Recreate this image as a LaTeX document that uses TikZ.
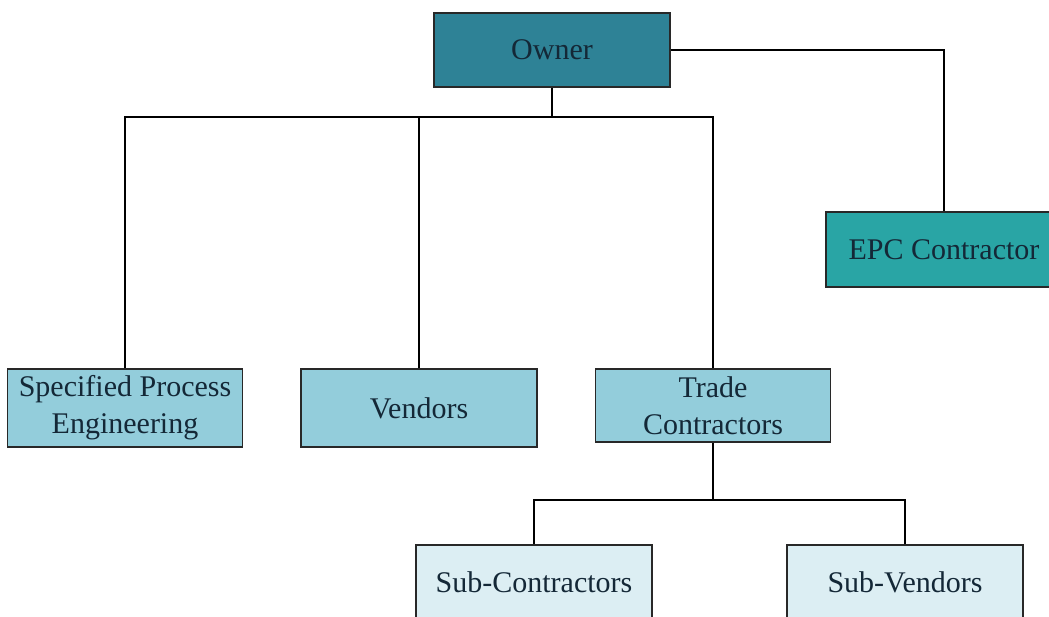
\documentclass[tikz,border=0pt]{standalone}
\usepackage{fontspec}
\setmainfont{Liberation Serif}
\definecolor{ownerfill}{RGB}{46,130,150}
\definecolor{epcfill}{RGB}{41,165,165}
\definecolor{midfill}{RGB}{147,205,219}
\definecolor{lowfill}{RGB}{220,238,243}
\definecolor{txt}{RGB}{20,40,55}
\definecolor{edge}{RGB}{40,40,40}
\tikzset{
  box/.style={draw=edge, line width=1.2pt, minimum width=236pt, inner sep=0pt,
    align=center, text=txt, font=\fontsize{30}{37}\selectfont},
  link/.style={draw=black, line width=2pt}
}
\begin{document}
\begin{tikzpicture}[x=1pt,y=-1pt]
\useasboundingbox (0,0) rectangle (1049,617);
\clip (0,0) rectangle (1049,617);
\fill[white] (0,0) rectangle (1049,617);
\node[box, fill=ownerfill, minimum height=74pt] (owner) at (552,50) {Owner};
\node[box, fill=epcfill, minimum height=75pt] (epc) at (944,249.5) {EPC Contractor};
\node[box, fill=midfill, minimum width=235pt, minimum height=78pt] (spe) at (125,408) {Specified Process\\Engineering};
\node[box, fill=midfill, minimum height=78pt] (vendors) at (419,408) {Vendors};
\node[box, fill=midfill, minimum width=235pt, minimum height=73pt] (trade) at (713,405.5) {Trade\\Contractors};
\node[box, fill=lowfill, minimum height=75pt] (subc) at (534,582.5) {Sub-Contractors};
\node[box, fill=lowfill, minimum height=75pt] (subv) at (905,582.5) {Sub-Vendors};
\coordinate (j1) at (552,117);
\coordinate (j2) at (713,500);
\draw[link] (owner.south) -- (j1);
\draw[link] (spe.north) |- (j1);
\draw[link] (vendors.north) |- (j1);
\draw[link] (trade.north) |- (j1);
\draw[link] (owner.east) -| (epc.north);
\draw[link] (trade.south) -- (j2);
\draw[link] (subc.north) |- (j2);
\draw[link] (subv.north) |- (j2);
\end{tikzpicture}
\end{document}
